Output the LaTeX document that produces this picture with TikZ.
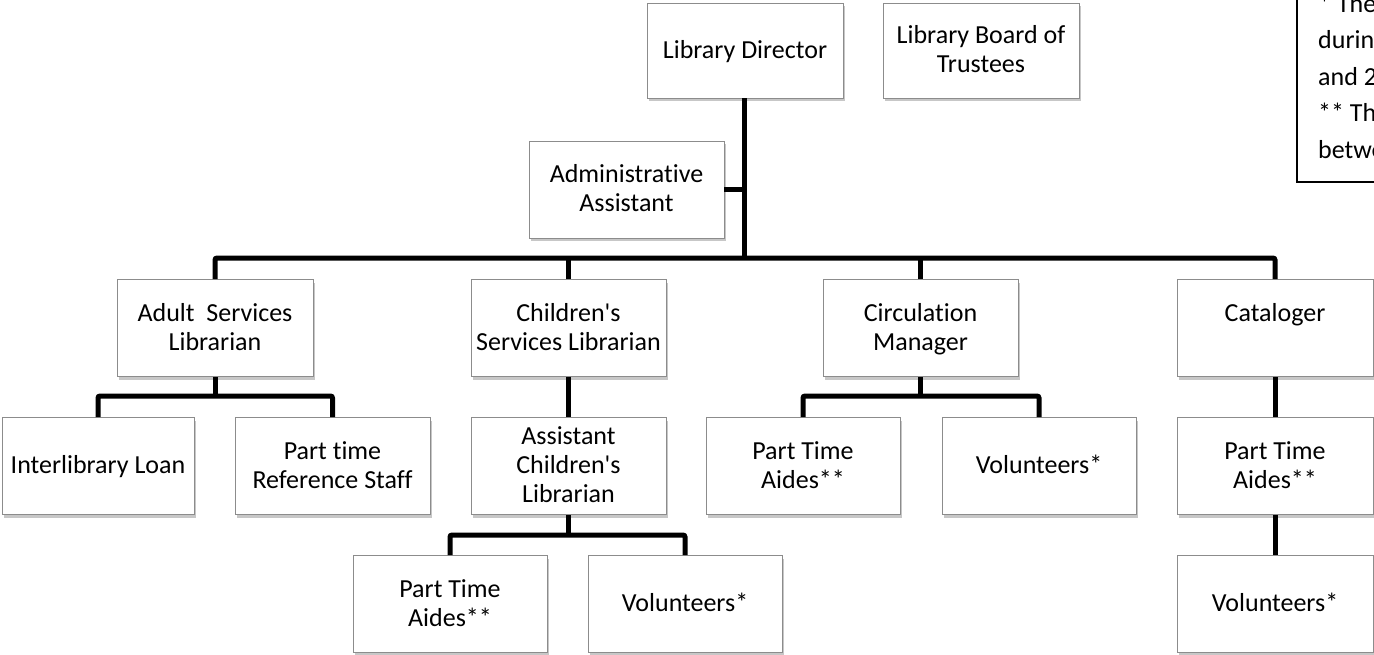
\documentclass[tikz,border=0pt]{standalone}
\usepackage{fontspec}
\setmainfont{Carlito}[Ligatures={TeXOff,NoCommon}]
\usetikzlibrary{shadows}
\newcommand{\fl}{\rule[-8.7pt]{0pt}{33pt}}
\newcommand{\ls}{\strut}
\begin{document}
\begin{tikzpicture}[x=1pt,y=-1pt,
  box/.style={draw=black!45, line width=0.9pt, fill=white, minimum width=196pt, minimum height=97pt,
    inner sep=2pt, align=center, font=\fontsize{26}{29}\selectfont,
    drop shadow={shadow xshift=2pt, shadow yshift=-3pt, opacity=0.22, fill=black}},
  conn/.style={line width=5pt, rounded corners=2pt},
  notetext/.style={anchor=base west, inner sep=0pt, font=\fontsize{26}{29}\selectfont}]
\useasboundingbox (0,0) rectangle (1374,654);
% top
\node[box, minimum height=95pt] (dir) at (745,50.5) {\fl Library Director};
\node[box, minimum height=95pt] (board) at (981,50.5) {\fl Library Board of\\\ls Trustees};
\node[box, minimum width=195pt] (admin) at (626.5,189.5) {\fl Administrative\\\ls Assistant};
% level 2
\node[box] (adult) at (215,328) {\fl Adult\ \ Services\\\ls Librarian};
\node[box, minimum width=195pt] (chsvc) at (568.5,328) {\fl Children's\\\ls Services Librarian};
\node[box, minimum width=195pt] (circ) at (920.5,328) {\fl Circulation\\\ls Manager};
\node[box] (catl) at (1275,328) {\fl Cataloger\\\ls};
% level 3
\node[box, minimum width=192pt] (ill) at (98,466) {\fl Interlibrary Loan};
\node[box, minimum width=195pt] (prs) at (332.5,466) {\fl Part time\\\ls Reference Staff};
\node[box, minimum width=195pt] (asst) at (568.5,466) {\fl Assistant\\\ls Children's\\\ls Librarian};
\node[box, minimum width=194pt] (cpta) at (803,466) {\fl Part Time\\\ls Aides**};
\node[box, minimum width=194pt] (cvol) at (1039,466) {\fl Volunteers*};
\node[box] (tpta) at (1275,466) {\fl Part Time\\\ls Aides**};
% level 4
\node[box, minimum width=194pt] (apta) at (450,604) {\fl Part Time\\\ls Aides**};
\node[box, minimum width=194pt] (avol) at (685,604) {\fl Volunteers*};
\node[box] (tvol) at (1275,603.5) {\fl Volunteers*};
% note box
\draw[line width=1.4pt] (1297,-5) -- (1297,182) -- (1390,182);
\node[notetext] (n1) at (1318,12) {* The};
\node[notetext] (n2) at (1318,48.5) {durin};
\node[notetext] (n3) at (1318,85) {and 2};
\node[notetext] (n4) at (1318,121.5) {** Th};
\node[notetext] (n5) at (1318,158) {betwe};
% connectors
\coordinate (bus) at (744,258);
\draw[conn] (dir.south -| bus) -- (bus);
\draw[conn] (admin.east) -- (admin.east -| bus);
\draw[conn] (adult.north) |- (bus) -| (catl.north);
\draw[conn] (chsvc.north) -- (chsvc.north |- bus);
\draw[conn] (circ.north) -- (circ.north |- bus);
% adult subtree
\coordinate (asub) at (215,396);
\draw[conn] (adult.south) -- (asub);
\draw[conn] (ill.north) |- (asub) -| (prs.north);
% children
\draw[conn] (chsvc.south) -- (asst.north);
\coordinate (csub) at (568.5,535);
\draw[conn] (asst.south) -- (csub);
\draw[conn] (apta.north) |- (csub) -| (avol.north);
% circulation
\coordinate (rsub) at (920.5,396);
\draw[conn] (circ.south) -- (rsub);
\draw[conn] (cpta.north) |- (rsub) -| (cvol.north);
% cataloger
\draw[conn] (catl.south) -- (tpta.north);
\draw[conn] (tpta.south) -- (tvol.north);
\end{tikzpicture}
\end{document}
